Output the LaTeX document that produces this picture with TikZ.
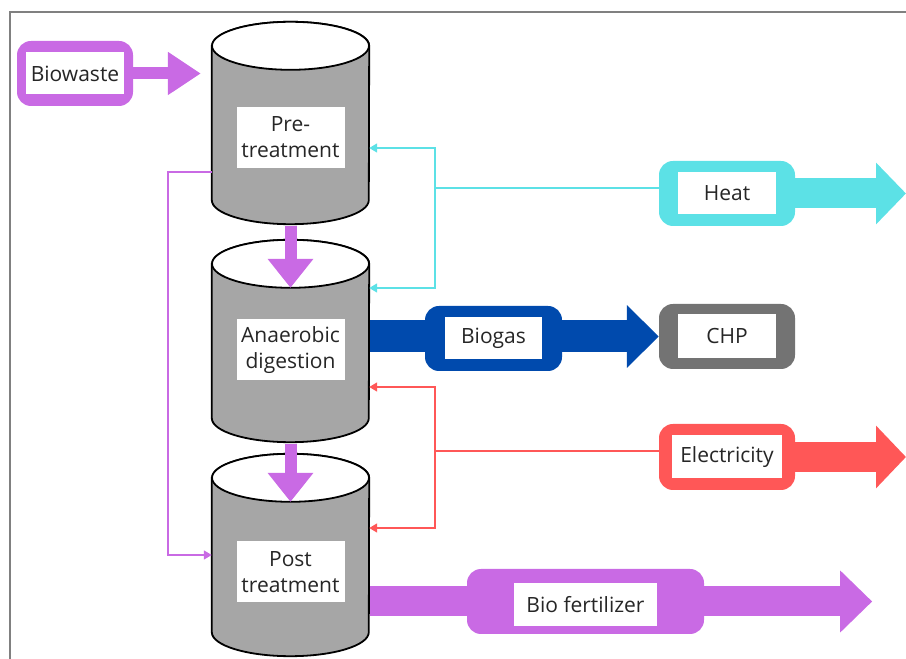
\documentclass[tikz,border=0pt]{standalone}
\usepackage{fontspec}
\setmainfont{Open Sans}
\usepackage{xcolor}
\usetikzlibrary{arrows.meta, positioning, calc}

\definecolor{wastepurple}{HTML}{C96AE4}
\definecolor{heatcyan}{HTML}{5CE1E6}
\definecolor{gasblue}{HTML}{004AAD}
\definecolor{chpgray}{HTML}{737373}
\definecolor{elecred}{HTML}{FF5757}
\definecolor{tankgray}{HTML}{A6A6A6}
\definecolor{framegray}{HTML}{808080}

\tikzset{
    tank/.style={minimum width=157pt, minimum height=154pt, inner sep=0pt},
    tankline/.style={draw=black, line width=1.8pt},
    tanklabel/.style={fill=white, align=center, inner sep=0pt, minimum width=108pt, minimum height=61pt},
    outerbox/.style={fill=#1, rounded corners=14pt, inner sep=0pt, minimum height=65pt},
    innerbox/.style={fill=white, inner sep=0pt, minimum height=42pt},
    thinflow/.style={draw=#1, line width=1.6pt, -{Triangle[width=9pt,length=8pt]}},
}

\begin{document}
\begin{tikzpicture}[x=1pt, y=1pt, every node/.style={font=\fontsize{21}{26}\selectfont, text=black!85}]
        \useasboundingbox (0,0) rectangle (906,659);
        \draw[framegray, line width=1.5pt] (10,0) -- (10,647) -- (906,647);

        % tanks
        \node[tank] (pre) at (290.5,536) {};
        \node[tank] (ad) at (290.5,318) {};
        \node[tank] (post) at (290.5,104) {};

        \draw[tankline, fill=tankgray] (pre.north west) -- (pre.south west) arc[start angle=180, end angle=360, x radius=78.5pt, y radius=24pt] -- (pre.north east) arc[start angle=0, end angle=180, x radius=78.5pt, y radius=24pt] -- cycle;
        \draw[tankline, fill=white] (pre.north) ellipse [x radius=78.5pt, y radius=24pt];
        \draw[tankline, fill=tankgray] (ad.north west) -- (ad.south west) arc[start angle=180, end angle=360, x radius=78.5pt, y radius=24pt] -- (ad.north east) arc[start angle=0, end angle=180, x radius=78.5pt, y radius=24pt] -- cycle;
        \draw[tankline, fill=white] (ad.north) ellipse [x radius=78.5pt, y radius=24pt];
        \draw[tankline, fill=tankgray] (post.north west) -- (post.south west) arc[start angle=180, end angle=360, x radius=78.5pt, y radius=24pt] -- (post.north east) arc[start angle=0, end angle=180, x radius=78.5pt, y radius=24pt] -- cycle;
        \draw[tankline, fill=white] (post.north) ellipse [x radius=78.5pt, y radius=24pt];

        \node[tanklabel, yshift=-14.5pt] (pre-l) at (pre) {Pre-\\treatment};
        \node[tanklabel, yshift=-9pt] (ad-l) at (ad) {Anaerobic\\digestion};
        \node[tanklabel, yshift=-17pt] (post-l) at (post) {Post\\treatment};

        % product boxes
        \node[outerbox=wastepurple, minimum width=116pt] (waste) at (75,585.5) {};
        \node[innerbox, minimum width=98pt] (waste-l) at (waste) {Biowaste};

        \node[outerbox=heatcyan, minimum width=136pt] (heat) at (727,465.5) {};
        \node[innerbox, minimum width=98pt] (heat-l) at (heat) {Heat};

        \node[outerbox=chpgray, minimum width=136pt] (chp) at (727,322.5) {};
        \node[innerbox, minimum width=98pt, minimum height=44pt] (chp-l) at (chp) {CHP};

        \node[outerbox=elecred, minimum width=136pt, minimum height=66pt] (elec) at (727,202) {};
        \node[innerbox, minimum width=110pt, minimum height=43pt] (elec-l) at (elec) {Electricity};

        \node[outerbox=gasblue, minimum width=137pt] (gas) at (493.5,320.5) {};
        \node[innerbox, minimum width=97pt] (gas-l) at (gas) {Biogas};

        \node[outerbox=wastepurple, minimum width=237pt] (fert) at (585.5,57.5) {};
        \node[innerbox, minimum width=143pt, minimum height=43pt, yshift=-3pt] (fert-l) at (fert) {Bio fertilizer};

        \coordinate (rim) at (906,0);
        \coordinate (waste-tip) at ($(pre.west |- waste)+(-11,0)$);
        \coordinate (fert-tip) at ($(fert.east)+(168,0)$);

        % thick flows
        \draw[wastepurple, line width=12pt, -{Triangle[width=41pt,length=33pt]}] (waste.east) -- (waste-tip);
        \draw[wastepurple, line width=12pt, -{Triangle[width=44pt,length=29pt]}] ([yshift=-26pt]pre.south) -- ([yshift=-24pt]ad.north);
        \draw[wastepurple, line width=12pt, -{Triangle[width=44pt,length=29pt]}] ([yshift=-26pt]ad.south) -- ([yshift=-24pt]post.north);

        \draw[gasblue, line width=32pt] ([xshift=1pt]ad.east |- chp) -- (gas.west |- chp);
        \draw[gasblue, line width=32pt, -{Triangle[width=61pt,length=32pt]}] (gas.east |- chp) -- (chp.west);

        \draw[heatcyan, line width=30pt, -{Triangle[width=60pt,length=30pt]}] (heat.east) -- (heat.east -| rim);
        \draw[elecred, line width=30pt, -{Triangle[width=61pt,length=30pt]}] (elec.east) -- (elec.east -| rim);

        \draw[wastepurple, line width=30pt] ([xshift=1pt]post.east |- fert) -- (fert.west);
        \draw[wastepurple, line width=30pt, -{Triangle[width=60pt,length=32pt]}] (fert.east) -- (fert-tip);

        % thin feedback lines
        \coordinate (heat-j) at (435,471);
        \draw[thinflow=heatcyan] ([yshift=5.5pt]heat.west) -- (heat-j) |- ([yshift=-25pt]pre.east);
        \draw[thinflow=heatcyan] (heat-j) |- ([yshift=53pt]ad.east);

        \coordinate (elec-j) at (435,208);
        \draw[thinflow=elecred] ([yshift=6pt]elec.west) -- (elec-j) |- ([yshift=-46pt]ad.east);
        \draw[thinflow=elecred] (elec-j) |- ([yshift=27pt]post.east);

        \draw[thinflow=wastepurple] ([yshift=-49pt]pre.west) -- ++(-44,0) |- (post.west);
    \end{tikzpicture}
\end{document}
